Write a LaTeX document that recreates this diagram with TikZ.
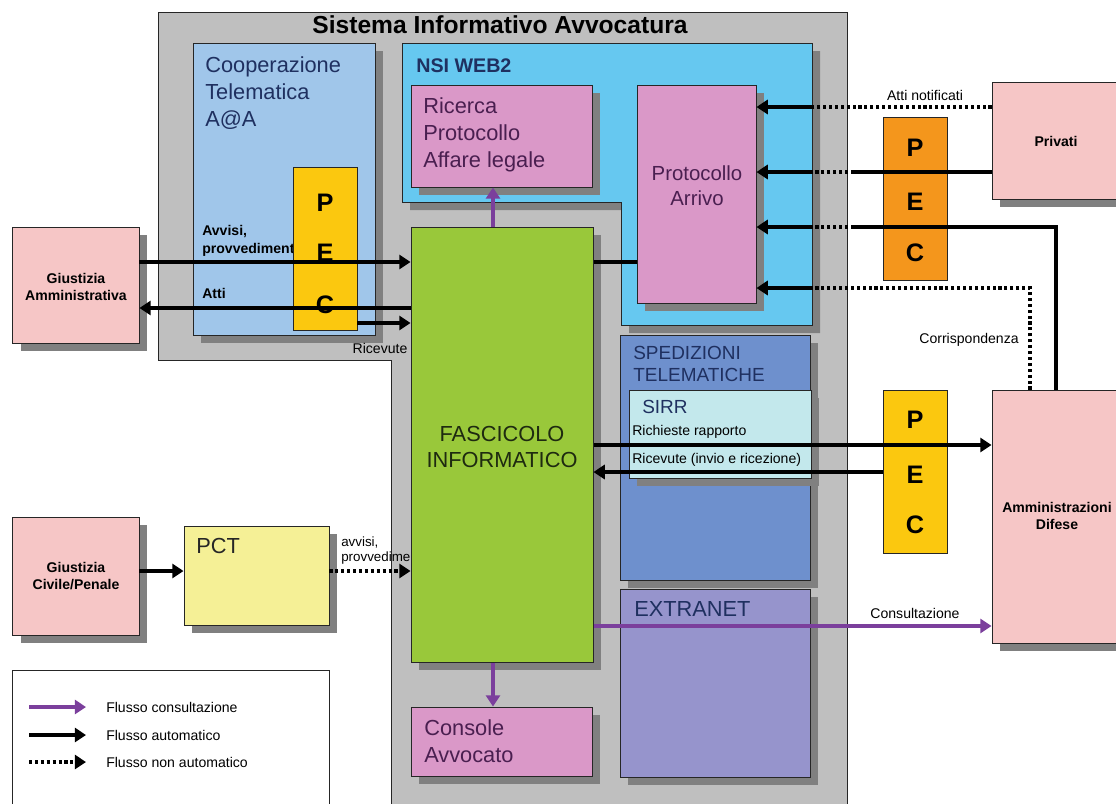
\documentclass[tikz,border=0pt]{standalone}
\usepackage{fontspec}
\setmainfont{Liberation Sans}
\usetikzlibrary{arrows.meta,fit,shadows}
\definecolor{graybg}{HTML}{BFBFBF}
\definecolor{shadowgray}{HTML}{808080}
\definecolor{coopblue}{HTML}{A0C6EA}
\definecolor{nsiblue}{HTML}{66C8F0}
\definecolor{pinkbox}{HTML}{DA98C8}
\definecolor{pecyellow}{HTML}{FBC80F}
\definecolor{pecorange}{HTML}{F4961C}
\definecolor{extpink}{HTML}{F6C6C6}
\definecolor{pctyellow}{HTML}{F5F096}
\definecolor{fascgreen}{HTML}{99C83A}
\definecolor{spedblue}{HTML}{6E90CD}
\definecolor{sirrcyan}{HTML}{C3E8EC}
\definecolor{extlav}{HTML}{9694CC}
\definecolor{flowpurple}{HTML}{7B3F9C}
\definecolor{navy}{HTML}{1F3060}
\definecolor{plumtext}{HTML}{4A1F50}
\definecolor{darkgreen}{HTML}{1E2A10}
\tikzset{
  box/.style={draw=black!85, line width=0.7pt, inner sep=0pt},
  shad/.style={drop shadow={shadow xshift=0.2cm, shadow yshift=-0.2cm, fill=shadowgray, opacity=1}},
  boxtitle/.style={font=\fontsize{15.5}{19.5}\selectfont, text=navy, align=left, inner sep=0pt},
  lbl/.style={font=\fontsize{10}{12}\selectfont, inner sep=0pt},
  bl/.style={font=\fontsize{10}{12}\selectfont\bfseries, inner sep=0pt},
  pecletter/.style={font=\fontsize{18}{18}\selectfont\bfseries, inner sep=0pt},
  autoflow/.style={line width=2.5pt, -{Triangle[length=8pt,width=10pt]}},
  autoline/.style={line width=2.5pt},
  manflow/.style={line width=2.2pt, dash pattern=on 2.2pt off 2pt, -{Triangle[length=8pt,width=10pt]}},
  manline/.style={line width=2.2pt, dash pattern=on 2.2pt off 2pt},
  consflow/.style={line width=2.2pt, draw=flowpurple, -{Triangle[length=8pt,width=10pt]}}
}
\begin{document}
\begin{tikzpicture}[x=0.025cm,y=-0.025cm]%SISTEMA INFORMATIVO
\useasboundingbox (0,0) rectangle (1116,803);
\filldraw[fill=graybg, draw=black!85, line width=0.7pt] (158,12) -- (847,12) -- (847,830) -- (391,830) -- (391,360) -- (158,360) -- cycle;
\node[font=\fontsize{17.5}{17.5}\selectfont\bfseries, inner sep=0pt, anchor=base] (siaT) at (500,33) {Sistema Informativo Avvocatura};
% cooperazione
\node[box, shad, fill=coopblue, fit={(193,43) (375,335)}] (coop) {};
\node[boxtitle, anchor=north west] (coopT) at (205,56) {Cooperazione\\Telematica\\A@A};
% nsi web2
\fill[shadowgray] (410,51) -- (820,51) -- (820,333) -- (629,333) -- (629,210) -- (410,210) -- cycle;
\filldraw[fill=nsiblue, draw=black!85, line width=0.7pt] (402,43) -- (812,43) -- (812,325) -- (621,325) -- (621,202) -- (402,202) -- cycle;
\node[font=\fontsize{14}{14}\selectfont\bfseries, text=navy, inner sep=0pt, anchor=base west] (nsiT) at (416,72) {NSI WEB2};
\node[box, shad, fill=pinkbox, fit={(411,85) (592,187)}] (ric) {};
\node[boxtitle, text=plumtext, anchor=north west] (ricT) at (423,97) {Ricerca\\Protocollo\\Affare legale};
\node[box, shad, fill=pinkbox, fit={(637,85) (756,303)}] (prot) {};
\node[font=\fontsize{14.5}{18}\selectfont, text=plumtext, align=center, inner sep=0pt] (protT) at (697,186) {Protocollo\\Arrivo};
% spedizioni
\node[box, shad, fill=spedblue, fit={(620,335) (810,580)}] (sped) {};
\node[font=\fontsize{13.5}{15.6}\selectfont, text=navy, align=left, inner sep=0pt, anchor=north west] (spedT) at (633,346) {SPEDIZIONI\\TELEMATICHE};
\node[box, shad, fill=sirrcyan, fit={(629,390) (811,478)}] (sirr) {};
\node[font=\fontsize{13.5}{13.5}\selectfont, text=navy, inner sep=0pt, anchor=base west] (sirrT) at (642,413) {SIRR};
\node[lbl, anchor=base west] (richL) at (632,435) {Richieste rapporto};
\node[lbl, anchor=base west] (ricevL) at (632,463) {Ricevute (invio e ricezione)};
% extranet
\node[box, shad, fill=extlav, fit={(620,589) (810,777)}] (extr) {};
\node[boxtitle, anchor=base west] (extrT) at (634,616) {EXTRANET};
% fascicolo e console
\node[font=\fontsize{9.5}{10.6}\selectfont, align=left, inner sep=0pt, anchor=north west] (pctL) at (341,537) {avvisi,\\provvedimenti};
\node[box, shad, fill=fascgreen, fit={(411,227) (593,662)}] (fasc) {};
\node[font=\fontsize{15.5}{18.4}\selectfont, text=darkgreen, align=center, inner sep=0pt] (fascT) at (502,447) {FASCICOLO\\INFORMATICO};
\node[box, shad, fill=pinkbox, fit={(411,707) (592,776)}] (cons) {};
\node[boxtitle, text=plumtext, anchor=north west] (consT) at (424,719) {Console\\Avvocato};
% pec sinistra
\node[bl, align=left, anchor=north west, font=\fontsize{10}{12.8}\selectfont\bfseries] (avvL) at (202,225) {Avvisi,\\provvedimenti};
\node[bl, anchor=base west] (attiL) at (202,298) {Atti};
\node[box, fill=pecyellow, fit={(293,167) (357,330)}] (pecL) {};
\node[pecletter] (pecLp) at (325,203) {P};
\node[pecletter] (pecLe) at (325,253) {E};
\node[pecletter] (pecLc) at (325,305) {C};
% esterni
\node[box, shad, fill=extpink, fit={(12.5,227) (139,343)}] (ga) {};
\node[bl, align=center] (gaT) at (76,287) {Giustizia\\Amministrativa};
\node[box, shad, fill=extpink, fit={(12.5,517) (139,635)}] (gcp) {};
\node[bl, align=center] (gcpT) at (76,576) {Giustizia\\Civile/Penale};
\node[box, shad, fill=pctyellow, fit={(184,526) (329,625)}] (pct) {};
\node[boxtitle, text=black!85, anchor=base west] (pctT) at (196,553) {PCT};
\node[box, shad, fill=extpink, fit={(992,82) (1130,199)}] (priv) {};
\node[bl] (privT) at (1056,141) {Privati};
\node[box, fill=pecorange, fit={(883,117) (947,280)}] (pecT) {};
\node[pecletter] (pecTp) at (915,148) {P};
\node[pecletter] (pecTe) at (915,202) {E};
\node[pecletter] (pecTc) at (915,253) {C};
\node[box, shad, fill=extpink, fit={(992,390) (1130,643)}] (amm) {};
\node[bl, align=center] (ammT) at (1057,516) {Amministrazioni\\Difese};
\node[box, fill=pecyellow, fit={(883,390) (947,553)}] (pecB) {};
\node[pecletter] (pecBp) at (915,420) {P};
\node[pecletter] (pecBe) at (915,475) {E};
\node[pecletter] (pecBc) at (915,525) {C};
% legenda
\node[box, fill=white, fit={(12.5,670) (329,830)}] (leg) {};
\coordinate (leg1a) at (29,707); \coordinate (leg1b) at (86,707);
\coordinate (leg2a) at (29,735); \coordinate (leg2b) at (86,735);
\coordinate (leg3a) at (29,762); \coordinate (leg3b) at (86,762);
\draw[consflow] (leg1a) -- (leg1b);
\draw[autoflow] (leg2a) -- (leg2b);
\draw[manflow] (leg3a) -- (leg3b);
\node[lbl, anchor=west] (leg1T) at (106,707) {Flusso consultazione};
\node[lbl, anchor=west] (leg2T) at (106,735) {Flusso automatico};
\node[lbl, anchor=west] (leg3T) at (106,762) {Flusso non automatico};
% flussi
\draw[autoflow] (ga.east |- 0,262) -- (fasc.west |- 0,262);
\draw[autoflow] (fasc.west |- 0,308) -- (ga.east |- 0,308);
\draw[autoflow] (pecL.east |- 0,323) -- (fasc.west |- 0,323);
\node[lbl, anchor=base] (ricL) at (380,353) {Ricevute};
\draw[autoflow] (gcp.east |- 0,571) -- (pct.west |- 0,571);
\draw[manflow] (pct.east |- 0,571) -- (fasc.west |- 0,571);
\draw[consflow] (fasc.north -| 493,0) -- (ric.south -| 493,0);
\draw[consflow] (fasc.south -| 493,0) -- (cons.north -| 493,0);
\draw[autoline] (fasc.east |- 0,262) -- (prot.west |- 0,262);
\draw[autoflow] (fasc.east |- 0,445) -- (amm.west |- 0,445);
\draw[autoflow] (pecB.west |- 0,472) -- (fasc.east |- 0,472);
\draw[consflow] (fasc.east |- 0,626) -- (amm.west |- 0,626);
\node[lbl, anchor=base] (consL) at (915,618) {Consultazione};
\coordinate (nsiE) at (812,0);
\coordinate (siaE) at (854,0);
\draw[manline] (priv.west |- 0,107) -- (nsiE |- 0,107);
\draw[autoflow] (nsiE |- 0,107) -- (prot.east |- 0,107);
\node[lbl, anchor=base] (attiN) at (925,100) {Atti notificati};
\draw[autoline] (priv.west |- 0,172) -- (siaE |- 0,172);
\draw[manline] (siaE |- 0,172) -- (nsiE |- 0,172);
\draw[autoflow] (nsiE |- 0,172) -- (prot.east |- 0,172);
\draw[autoline] (amm.north -| 1056,0) |- (siaE |- 0,227);
\draw[manline] (siaE |- 0,227) -- (nsiE |- 0,227);
\draw[autoflow] (nsiE |- 0,227) -- (prot.east |- 0,227);
\draw[manline] (amm.north -| 1030,0) |- (nsiE |- 0,288);
\draw[autoflow] (nsiE |- 0,288) -- (prot.east |- 0,288);
\node[lbl, anchor=base] (corrL) at (969,343) {Corrispondenza};
\end{tikzpicture}
\end{document}
